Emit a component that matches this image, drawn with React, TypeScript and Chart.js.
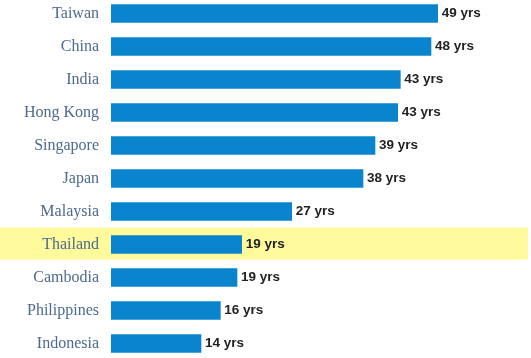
import React, { useEffect, useRef } from "react";
import { Chart, registerables } from "chart.js";

Chart.register(...registerables);

const countries = [
  "Taiwan",
  "China",
  "India",
  "Hong Kong",
  "Singapore",
  "Japan",
  "Malaysia",
  "Thailand",
  "Cambodia",
  "Philippines",
  "Indonesia",
];
const years = [49, 48, 43.4, 43, 39.6, 37.8, 27.1, 19.6, 18.9, 16.4, 13.5];
const valueLabels = [
  "49 yrs",
  "48 yrs",
  "43 yrs",
  "43 yrs",
  "39 yrs",
  "38 yrs",
  "27 yrs",
  "19 yrs",
  "19 yrs",
  "16 yrs",
  "14 yrs",
];
const highlighted = "Thailand";

const highlightPlugin = {
  id: "highlightBand",
  beforeDraw(chart: any) {
    const idx = countries.indexOf(highlighted);
    if (idx < 0) return;
    const y = chart.scales.y;
    const c = y.getPixelForValue(idx);
    const ctx = chart.ctx;
    ctx.save();
    ctx.fillStyle = "#fffa9c";
    ctx.fillRect(0, c - 17, chart.width - 3, 32);
    ctx.restore();
  },
};

const valueLabelPlugin = {
  id: "valueLabels",
  afterDatasetsDraw(chart: any) {
    const ctx = chart.ctx;
    const meta = chart.getDatasetMeta(0);
    ctx.save();
    ctx.font = "bold 13.5px 'Liberation Sans', Arial, sans-serif";
    ctx.fillStyle = "#222222";
    ctx.textAlign = "left";
    ctx.textBaseline = "middle";
    meta.data.forEach((bar: any, i: number) => {
      ctx.fillText(valueLabels[i], bar.x + 4, bar.y);
    });
    ctx.restore();
  },
};

export default function App() {
  const ref = useRef<HTMLCanvasElement>(null);
  useEffect(() => {
    if (!ref.current) return;
    const chart = new Chart(ref.current, {
      type: "bar",
      data: {
        labels: countries,
        datasets: [
          {
            data: years,
            backgroundColor: "#0a85cd",
            barThickness: 18,
            borderWidth: 0,
          },
        ],
      },
      options: {
        indexAxis: "y",
        animation: false,
        responsive: false,
        maintainAspectRatio: false,
        layout: { padding: 0 },
        plugins: {
          legend: { display: false },
          tooltip: { enabled: false },
          title: { display: false },
        },
        scales: {
          x: {
            display: false,
            min: 0,
            max: 63,
          },
          y: {
            grid: { display: false, drawTicks: false },
            border: { display: false },
            ticks: {
              padding: 12,
              color: "#4d6a8e",
              font: { family: "'Liberation Serif', 'Times New Roman', serif", size: 16 },
            },
            afterFit: (scale: any) => {
              scale.width = 111;
              scale.paddingTop = 0;
              scale.paddingBottom = 0;
            },
          },
        },
      },
      plugins: [highlightPlugin, valueLabelPlugin],
    });
    return () => chart.destroy();
  }, []);

  return (
    <div
      style={{
        position: "fixed",
        left: 0,
        top: 0,
        width: 531,
        height: 358,
        overflow: "hidden",
        background: "#ffffff",
      }}
    >
      <canvas
        ref={ref}
        width={531}
        height={363}
        style={{ position: "absolute", left: 0, top: -3, width: 531, height: 363 }}
      />
    </div>
  );
}
